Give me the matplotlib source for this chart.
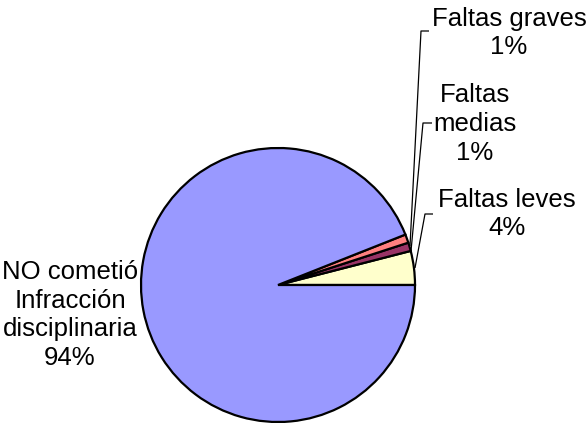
import matplotlib
matplotlib.use("Agg")
import matplotlib.pyplot as plt

# Datos del gráfico (orden antihorario desde las 3 en punto)
categorias = ["Faltas leves", "Faltas medias", "Faltas graves", "NO cometió Infracción disciplinaria"]
valores = [4, 1, 1, 94]
etiquetas = ["Faltas leves\n4%", "Faltas\nmedias\n1%", "Faltas graves\n1%",
             "NO cometió\nInfracción\ndisciplinaria\n94%"]
colores = ["#FFFFCC", "#993366", "#FF8080", "#9999FF"]

plt.rcParams["font.family"] = ["Liberation Sans", "DejaVu Sans"]

W, H = 587, 423
fig = plt.figure(figsize=(W / 100, H / 100), dpi=100)
ax = fig.add_axes([0, 0, 1, 1])

cx, cy, r = 278, H - 285, 137
wedges, _ = ax.pie(valores, colors=colores, startangle=0, counterclock=True,
                   center=(cx, cy), radius=r, frame=True,
                   wedgeprops=dict(edgecolor="black", linewidth=1.6))
for w in wedges:
    w.set_clip_on(False)
ax.set_xlim(0, W)
ax.set_ylim(0, H)
ax.set_aspect("equal")
ax.axis("off")

# Posiciones de las etiquetas (en píxeles de la imagen)
pos_txt = [(507, 214), (475, 124), (509, 33), (70, 315)]
# Líneas guía: gancho horizontal y punto sobre la porción
guias = [
    [(433, 214), (425, 214), (415, 268)],
    [(432, 123), (423, 123), (411, 251)],
    [(429, 31), (421, 31), (410, 246)],
]

for (x, y), txt in zip(pos_txt, etiquetas):
    ax.text(x, H - y, txt, ha="center", va="center", fontsize=18.5,
            linespacing=1.25, color="black")

for g in guias:
    xs = [p[0] for p in g]
    ys = [H - p[1] for p in g]
    ax.plot(xs, ys, color="black", linewidth=0.9, solid_capstyle="butt")

fig.savefig("out.png", dpi=100)
